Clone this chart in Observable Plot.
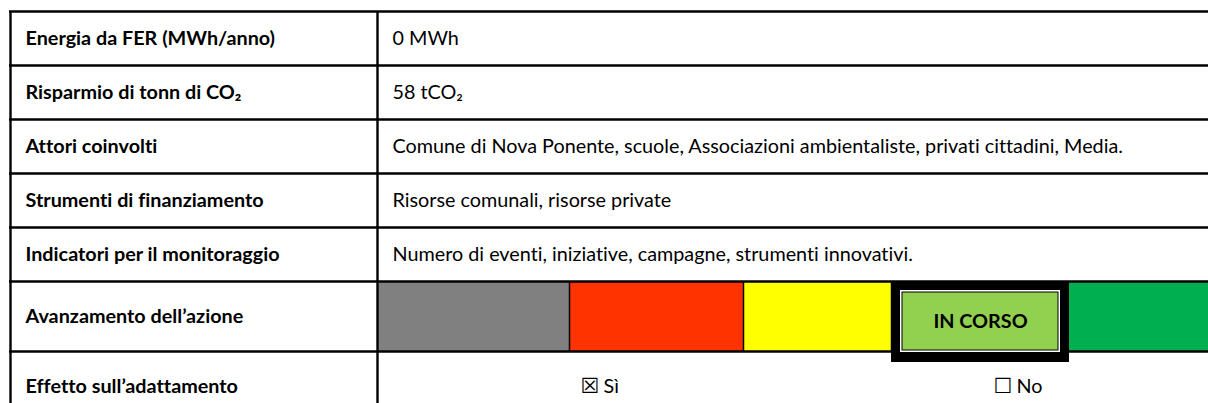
<!DOCTYPE html>
<html>
<head>
<meta charset="utf-8">
<script src="https://cdn.jsdelivr.net/npm/d3@7"></script>
<script src="https://cdn.jsdelivr.net/npm/@observablehq/plot@0.6"></script>
<style>
  html, body { margin: 0; padding: 0; background: #ffffff; }
  #chart svg { display: block; }
  #chart text { font-variant-ligatures: none; font-feature-settings: "liga" 0; }
</style>
</head>
<body>
<div id="chart"></div>
<script>
// ---- data ----
const rowLabels = [
  "Energia da FER (MWh/anno)",
  "Risparmio di tonn di CO₂",
  "Attori coinvolti",
  "Strumenti di finanziamento",
  "Indicatori per il monitoraggio",
  "Avanzamento dell’azione",
  "Effetto sull’adattamento"
];
const rowValues = [
  "0 MWh",
  "58 tCO₂",
  "Comune di Nova Ponente, scuole, Associazioni ambientaliste, privati cittadini, Media.",
  "Risorse comunali, risorse private",
  "Numero di eventi, iniziative, campagne, strumenti innovativi.",
  "",
  ""
];
const statusLevels = ["Non avviata", "In ritardo", "Da avviare", "In corso", "Completata"];
const statusColors = ["#808080", "#ff3300", "#ffff00", "#92d050", "#00b050"];
const statusCurrent = "In corso";
const statusCurrentLabel = "IN CORSO";
const adaptOptions = ["Sì", "No"];
const adaptChecked = [true, false];

// ---- layout ----
const W = 1208, H = 403;
const tableLeft = 10, colSplit = 377, tableRight = 1230;
const rowTop = 11;
const rowHeights = [54, 54, 54, 54, 54, 70, 70];
const edges = [rowTop];
rowHeights.forEach(h => edges.push(edges[edges.length - 1] + h));
const statusEdges = [377, 569, 743, 891, 1069, 1230];
const adaptX = [580, 993];
const font = "Lato, 'Open Sans', sans-serif";
const fs = 19.8;

const rows = rowLabels.map((label, i) => ({
  label, value: rowValues[i],
  y0: edges[i], y1: edges[i + 1], yc: (edges[i] + edges[i + 1]) / 2
}));
const statusRow = rows[5];
const status = statusLevels.map((s, i) => ({
  s, color: statusColors[i], x0: statusEdges[i], x1: statusEdges[i + 1],
  y0: statusRow.y0, y1: statusRow.y1
}));
const cur = status.find(d => d.s === statusCurrent);
const effRow = rows[6];
const adapt = adaptOptions.map((o, i) => ({
  box: adaptChecked[i] ? "☒" : "☐", text: o, checked: adaptChecked[i], x: adaptX[i], y: effRow.yc
}));

const hLines = edges.slice(0, 7).map(y => ({y}));

const chart = Plot.plot({
  width: W, height: H,
  margin: 0,
  x: {domain: [0, W], range: [0, W], axis: null},
  y: {domain: [0, H], range: [0, H], axis: null},
  style: {background: "#ffffff"},
  marks: [
    // status colour cells
    Plot.rect(status, {x1: "x0", x2: "x1", y1: "y0", y2: "y1", fill: "color"}),
    Plot.ruleX(status.slice(1, 4), {x: "x0", y1: "y0", y2: "y1", stroke: "#000", strokeWidth: 1.5}),
    // table grid
    Plot.ruleY(hLines, {y: "y", x1: tableLeft - 1, x2: tableRight, stroke: "#000", strokeWidth: 2.4}),
    Plot.ruleX([tableLeft, colSplit], {x: d => d, y1: rowTop, y2: H + 20, stroke: "#000", strokeWidth: 2.4}),
    // highlighted current status
    Plot.rect([cur], {x1: d => d.x0, x2: d => d.x1, y1: d => d.y0, y2: d => d.y0 + 81, fill: "#000"}),
    Plot.rect([cur], {x1: d => d.x0 + 9, x2: d => d.x1 - 9, y1: d => d.y0 + 9, y2: d => d.y0 + 71, fill: "#fff"}),
    Plot.rect([cur], {x1: d => d.x0 + 10.5, x2: d => d.x1 - 10.5, y1: d => d.y0 + 10.5, y2: d => d.y0 + 69.5, fill: "#000"}),
    Plot.rect([cur], {x1: d => d.x0 + 11.5, x2: d => d.x1 - 11.5, y1: d => d.y0 + 11.5, y2: d => d.y0 + 68.5, fill: d => d.color}),
    Plot.text([cur], {x: d => (d.x0 + d.x1) / 2, y: d => d.y0 + 40, text: () => statusCurrentLabel,
      fontFamily: font, fontWeight: "bold", fontSize: fs, fill: "#000"}),
    // labels
    Plot.text(rows, {x: tableLeft + 15, y: "yc", text: "label", textAnchor: "start",
      fontFamily: font, fontWeight: "bold", fontSize: fs, fill: "#000"}),
    Plot.text(rows.filter(d => d.value), {x: colSplit + 15, y: "yc", text: "value", textAnchor: "start",
      fontFamily: font, fontSize: fs, fill: "#000"}),
    // adaptation checkboxes
    Plot.text(adapt, {x: "x", y: "y", text: "box", textAnchor: "start",
      fontFamily: "'DejaVu Sans', sans-serif", fontSize: 21, fontWeight: d => d.checked ? "bold" : "normal", fill: "#000"}),
    Plot.text(adapt, {x: d => d.x + 23, y: "y", text: "text", textAnchor: "start",
      fontFamily: font, fontSize: fs, fontWeight: d => d.checked ? "bold" : "normal", fill: "#000"})
  ]
});
document.getElementById("chart").appendChild(chart);
</script>
</body>
</html>
